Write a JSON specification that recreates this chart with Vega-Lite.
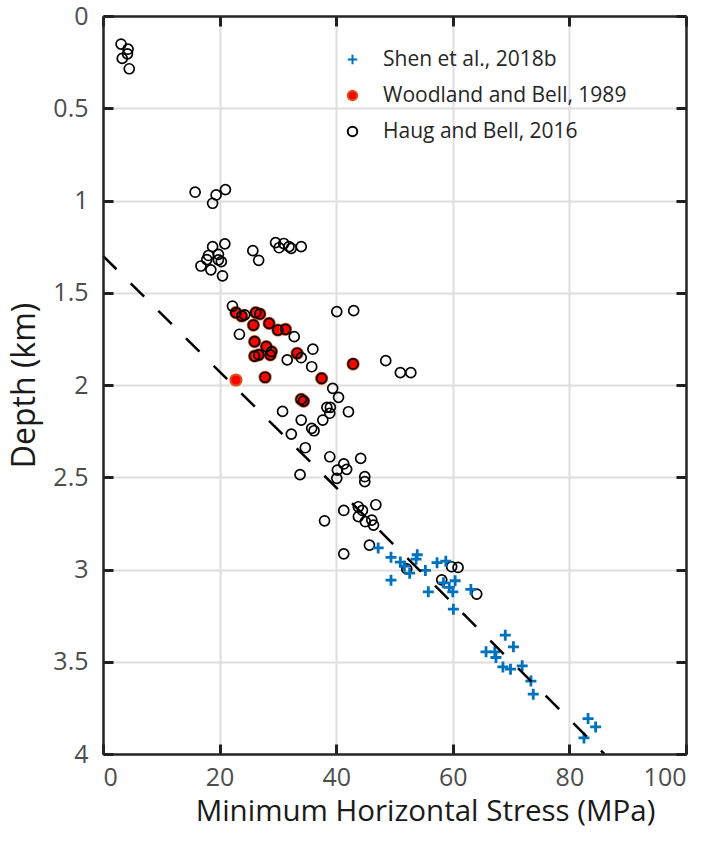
{
  "$schema": "https://vega.github.io/schema/vega-lite/v6.json",
  "width": 583,
  "height": 738,
  "autosize": "none",
  "padding": {"left": 103, "top": 16, "right": 21, "bottom": 88},
  "background": "white",
  "config": {"view": {"stroke": null}, "font": "Open Sans"},
  "datasets": {
    "pts": [
      {"source": "Woodland and Bell, 1989", "stress": 22.8, "depth": 1.608},
      {"source": "Woodland and Bell, 1989", "stress": 23.8, "depth": 1.626},
      {"source": "Woodland and Bell, 1989", "stress": 26.2, "depth": 1.608},
      {"source": "Woodland and Bell, 1989", "stress": 26.9, "depth": 1.615},
      {"source": "Woodland and Bell, 1989", "stress": 25.8, "depth": 1.675},
      {"source": "Woodland and Bell, 1989", "stress": 28.5, "depth": 1.666},
      {"source": "Woodland and Bell, 1989", "stress": 30.0, "depth": 1.702},
      {"source": "Woodland and Bell, 1989", "stress": 31.3, "depth": 1.698},
      {"source": "Woodland and Bell, 1989", "stress": 26.0, "depth": 1.765},
      {"source": "Woodland and Bell, 1989", "stress": 28.0, "depth": 1.792},
      {"source": "Woodland and Bell, 1989", "stress": 28.9, "depth": 1.819},
      {"source": "Woodland and Bell, 1989", "stress": 26.0, "depth": 1.843},
      {"source": "Woodland and Bell, 1989", "stress": 26.7, "depth": 1.837},
      {"source": "Woodland and Bell, 1989", "stress": 28.7, "depth": 1.837},
      {"source": "Woodland and Bell, 1989", "stress": 33.3, "depth": 1.828},
      {"source": "Woodland and Bell, 1989", "stress": 27.8, "depth": 1.958},
      {"source": "Woodland and Bell, 1989", "stress": 37.5, "depth": 1.964},
      {"source": "Woodland and Bell, 1989", "stress": 42.9, "depth": 1.886},
      {"source": "Woodland and Bell, 1989", "stress": 22.8, "depth": 1.973},
      {"source": "Woodland and Bell, 1989", "stress": 34.0, "depth": 2.078},
      {"source": "Woodland and Bell, 1989", "stress": 34.4, "depth": 2.087},

      {"source": "Haug and Bell, 2016", "stress": 22.8, "depth": 1.608},
      {"source": "Haug and Bell, 2016", "stress": 23.8, "depth": 1.626},
      {"source": "Haug and Bell, 2016", "stress": 26.2, "depth": 1.608},
      {"source": "Haug and Bell, 2016", "stress": 26.9, "depth": 1.615},
      {"source": "Haug and Bell, 2016", "stress": 25.8, "depth": 1.675},
      {"source": "Haug and Bell, 2016", "stress": 28.5, "depth": 1.666},
      {"source": "Haug and Bell, 2016", "stress": 30.0, "depth": 1.702},
      {"source": "Haug and Bell, 2016", "stress": 31.3, "depth": 1.698},
      {"source": "Haug and Bell, 2016", "stress": 26.0, "depth": 1.765},
      {"source": "Haug and Bell, 2016", "stress": 28.0, "depth": 1.792},
      {"source": "Haug and Bell, 2016", "stress": 28.9, "depth": 1.819},
      {"source": "Haug and Bell, 2016", "stress": 26.0, "depth": 1.843},
      {"source": "Haug and Bell, 2016", "stress": 26.7, "depth": 1.837},
      {"source": "Haug and Bell, 2016", "stress": 28.7, "depth": 1.837},
      {"source": "Haug and Bell, 2016", "stress": 33.3, "depth": 1.828},
      {"source": "Haug and Bell, 2016", "stress": 27.8, "depth": 1.958},
      {"source": "Haug and Bell, 2016", "stress": 37.5, "depth": 1.964},
      {"source": "Haug and Bell, 2016", "stress": 42.9, "depth": 1.886},
      {"source": "Haug and Bell, 2016", "stress": 34.0, "depth": 2.078},
      {"source": "Haug and Bell, 2016", "stress": 34.4, "depth": 2.087},

      {"source": "Haug and Bell, 2016", "stress": 3.1, "depth": 0.152},
      {"source": "Haug and Bell, 2016", "stress": 4.3, "depth": 0.18},
      {"source": "Haug and Bell, 2016", "stress": 4.2, "depth": 0.205},
      {"source": "Haug and Bell, 2016", "stress": 3.3, "depth": 0.23},
      {"source": "Haug and Bell, 2016", "stress": 4.5, "depth": 0.286},
      {"source": "Haug and Bell, 2016", "stress": 15.8, "depth": 0.955},
      {"source": "Haug and Bell, 2016", "stress": 19.4, "depth": 0.97},
      {"source": "Haug and Bell, 2016", "stress": 21.0, "depth": 0.941},
      {"source": "Haug and Bell, 2016", "stress": 18.8, "depth": 1.015},
      {"source": "Haug and Bell, 2016", "stress": 20.9, "depth": 1.235},
      {"source": "Haug and Bell, 2016", "stress": 18.8, "depth": 1.25},
      {"source": "Haug and Bell, 2016", "stress": 18.1, "depth": 1.298},
      {"source": "Haug and Bell, 2016", "stress": 19.8, "depth": 1.292},
      {"source": "Haug and Bell, 2016", "stress": 17.8, "depth": 1.32},
      {"source": "Haug and Bell, 2016", "stress": 19.8, "depth": 1.322},
      {"source": "Haug and Bell, 2016", "stress": 20.3, "depth": 1.331},
      {"source": "Haug and Bell, 2016", "stress": 16.8, "depth": 1.355},
      {"source": "Haug and Bell, 2016", "stress": 18.5, "depth": 1.376},
      {"source": "Haug and Bell, 2016", "stress": 20.5, "depth": 1.408},
      {"source": "Haug and Bell, 2016", "stress": 25.7, "depth": 1.272},
      {"source": "Haug and Bell, 2016", "stress": 26.7, "depth": 1.324},
      {"source": "Haug and Bell, 2016", "stress": 29.6, "depth": 1.228},
      {"source": "Haug and Bell, 2016", "stress": 30.2, "depth": 1.256},
      {"source": "Haug and Bell, 2016", "stress": 31.0, "depth": 1.233},
      {"source": "Haug and Bell, 2016", "stress": 31.9, "depth": 1.25},
      {"source": "Haug and Bell, 2016", "stress": 32.3, "depth": 1.259},
      {"source": "Haug and Bell, 2016", "stress": 34.0, "depth": 1.25},
      {"source": "Haug and Bell, 2016", "stress": 22.2, "depth": 1.572},
      {"source": "Haug and Bell, 2016", "stress": 24.3, "depth": 1.62},
      {"source": "Haug and Bell, 2016", "stress": 23.4, "depth": 1.725},
      {"source": "Haug and Bell, 2016", "stress": 32.8, "depth": 1.738},
      {"source": "Haug and Bell, 2016", "stress": 40.1, "depth": 1.602},
      {"source": "Haug and Bell, 2016", "stress": 43.0, "depth": 1.597},
      {"source": "Haug and Bell, 2016", "stress": 36.0, "depth": 1.806},
      {"source": "Haug and Bell, 2016", "stress": 31.6, "depth": 1.864},
      {"source": "Haug and Bell, 2016", "stress": 34.0, "depth": 1.852},
      {"source": "Haug and Bell, 2016", "stress": 35.8, "depth": 1.901},
      {"source": "Haug and Bell, 2016", "stress": 39.4, "depth": 2.018},
      {"source": "Haug and Bell, 2016", "stress": 40.4, "depth": 2.067},
      {"source": "Haug and Bell, 2016", "stress": 48.5, "depth": 1.868},
      {"source": "Haug and Bell, 2016", "stress": 51.0, "depth": 1.933},
      {"source": "Haug and Bell, 2016", "stress": 52.8, "depth": 1.933},
      {"source": "Haug and Bell, 2016", "stress": 42.1, "depth": 2.145},
      {"source": "Haug and Bell, 2016", "stress": 38.4, "depth": 2.121},
      {"source": "Haug and Bell, 2016", "stress": 39.0, "depth": 2.121},
      {"source": "Haug and Bell, 2016", "stress": 38.9, "depth": 2.153},
      {"source": "Haug and Bell, 2016", "stress": 37.7, "depth": 2.19},
      {"source": "Haug and Bell, 2016", "stress": 35.8, "depth": 2.235},
      {"source": "Haug and Bell, 2016", "stress": 36.2, "depth": 2.248},
      {"source": "Haug and Bell, 2016", "stress": 34.0, "depth": 2.19},
      {"source": "Haug and Bell, 2016", "stress": 34.7, "depth": 2.34},
      {"source": "Haug and Bell, 2016", "stress": 30.8, "depth": 2.143},
      {"source": "Haug and Bell, 2016", "stress": 32.3, "depth": 2.266},
      {"source": "Haug and Bell, 2016", "stress": 33.8, "depth": 2.486},
      {"source": "Haug and Bell, 2016", "stress": 38.9, "depth": 2.389},
      {"source": "Haug and Bell, 2016", "stress": 41.3, "depth": 2.428},
      {"source": "Haug and Bell, 2016", "stress": 41.8, "depth": 2.457},
      {"source": "Haug and Bell, 2016", "stress": 40.2, "depth": 2.461},
      {"source": "Haug and Bell, 2016", "stress": 40.1, "depth": 2.506},
      {"source": "Haug and Bell, 2016", "stress": 44.2, "depth": 2.398},
      {"source": "Haug and Bell, 2016", "stress": 44.9, "depth": 2.497},
      {"source": "Haug and Bell, 2016", "stress": 44.9, "depth": 2.524},
      {"source": "Haug and Bell, 2016", "stress": 46.8, "depth": 2.649},
      {"source": "Haug and Bell, 2016", "stress": 41.3, "depth": 2.68},
      {"source": "Haug and Bell, 2016", "stress": 38.0, "depth": 2.736},
      {"source": "Haug and Bell, 2016", "stress": 43.8, "depth": 2.66},
      {"source": "Haug and Bell, 2016", "stress": 44.5, "depth": 2.68},
      {"source": "Haug and Bell, 2016", "stress": 43.8, "depth": 2.713},
      {"source": "Haug and Bell, 2016", "stress": 45.0, "depth": 2.741},
      {"source": "Haug and Bell, 2016", "stress": 46.1, "depth": 2.732},
      {"source": "Haug and Bell, 2016", "stress": 46.4, "depth": 2.759},
      {"source": "Haug and Bell, 2016", "stress": 45.7, "depth": 2.868},
      {"source": "Haug and Bell, 2016", "stress": 41.3, "depth": 2.915},
      {"source": "Haug and Bell, 2016", "stress": 52.1, "depth": 2.997},
      {"source": "Haug and Bell, 2016", "stress": 59.8, "depth": 2.985},
      {"source": "Haug and Bell, 2016", "stress": 60.9, "depth": 2.989},
      {"source": "Haug and Bell, 2016", "stress": 58.1, "depth": 3.056},
      {"source": "Haug and Bell, 2016", "stress": 64.1, "depth": 3.133},

      {"source": "Shen et al., 2018b", "stress": 47.2, "depth": 2.883},
      {"source": "Shen et al., 2018b", "stress": 49.4, "depth": 2.934},
      {"source": "Shen et al., 2018b", "stress": 51.0, "depth": 2.96},
      {"source": "Shen et al., 2018b", "stress": 51.7, "depth": 2.982},
      {"source": "Shen et al., 2018b", "stress": 53.9, "depth": 2.92},
      {"source": "Shen et al., 2018b", "stress": 53.7, "depth": 2.944},
      {"source": "Shen et al., 2018b", "stress": 55.3, "depth": 3.005},
      {"source": "Shen et al., 2018b", "stress": 57.3, "depth": 2.963},
      {"source": "Shen et al., 2018b", "stress": 58.8, "depth": 2.955},
      {"source": "Shen et al., 2018b", "stress": 49.4, "depth": 3.058},
      {"source": "Shen et al., 2018b", "stress": 52.6, "depth": 3.02},
      {"source": "Shen et al., 2018b", "stress": 58.4, "depth": 3.072},
      {"source": "Shen et al., 2018b", "stress": 55.8, "depth": 3.121},
      {"source": "Shen et al., 2018b", "stress": 59.4, "depth": 3.097},
      {"source": "Shen et al., 2018b", "stress": 60.4, "depth": 3.061},
      {"source": "Shen et al., 2018b", "stress": 60.0, "depth": 3.121},
      {"source": "Shen et al., 2018b", "stress": 60.1, "depth": 3.215},
      {"source": "Shen et al., 2018b", "stress": 63.1, "depth": 3.108},
      {"source": "Shen et al., 2018b", "stress": 69.0, "depth": 3.356},
      {"source": "Shen et al., 2018b", "stress": 70.4, "depth": 3.419},
      {"source": "Shen et al., 2018b", "stress": 65.7, "depth": 3.446},
      {"source": "Shen et al., 2018b", "stress": 67.2, "depth": 3.446},
      {"source": "Shen et al., 2018b", "stress": 67.4, "depth": 3.477},
      {"source": "Shen et al., 2018b", "stress": 68.6, "depth": 3.528},
      {"source": "Shen et al., 2018b", "stress": 69.9, "depth": 3.54},
      {"source": "Shen et al., 2018b", "stress": 71.9, "depth": 3.522},
      {"source": "Shen et al., 2018b", "stress": 73.4, "depth": 3.605},
      {"source": "Shen et al., 2018b", "stress": 73.8, "depth": 3.676},
      {"source": "Shen et al., 2018b", "stress": 83.2, "depth": 3.808},
      {"source": "Shen et al., 2018b", "stress": 84.5, "depth": 3.853},
      {"source": "Shen et al., 2018b", "stress": 82.5, "depth": 3.913}
    ],
    "fit": [
      {"stress": 0, "depth": 1.3},
      {"stress": 86, "depth": 4.0}
    ]
  },
  "layer": [
    {
      "data": {"name": "pts"},
      "transform": [{"filter": "datum.source === 'Woodland and Bell, 1989'"}],
      "mark": {"type": "point", "opacity": 1, "size": 125, "strokeWidth": 2},
      "encoding": {
        "x": {
          "field": "stress", "type": "quantitative",
          "scale": {"domain": [0, 100], "nice": false, "zero": false},
          "axis": {
            "orient": "bottom", "values": [0, 20, 40, 60, 80, 100],
            "grid": true, "gridColor": "#dedede", "gridWidth": 2,
            "domain": false, "ticks": false,
            "labelFontSize": 25, "labelColor": "#4d4d4d", "labelPadding": 11,
            "title": "Minimum Horizontal Stress (MPa)", "titleFontSize": 29.5,
            "titleFontWeight": "normal", "titleColor": "#1a1a1a", "titlePadding": 7,
            "titleX": 322, "titleAlign": "center"
          }
        },
        "y": {
          "field": "depth", "type": "quantitative",
          "scale": {"domain": [0, 4], "reverse": true, "nice": false, "zero": false},
          "axis": {
            "orient": "left", "values": [0, 0.5, 1, 1.5, 2, 2.5, 3, 3.5, 4],
            "labelExpr": "'' + datum.value",
            "grid": true, "gridColor": "#dedede", "gridWidth": 2,
            "domain": false, "ticks": false,
            "labelFontSize": 25, "labelColor": "#4d4d4d", "labelPadding": 15,
            "title": "Depth (km)", "titleFontSize": 32,
            "titleFontWeight": "normal", "titleColor": "#1a1a1a", "titlePadding": 11
          }
        },
        "shape": {
          "field": "source", "type": "nominal",
          "scale": {
            "domain": ["Shen et al., 2018b", "Woodland and Bell, 1989", "Haug and Bell, 2016"],
            "range": ["M-1,0H1M0,-1V1", "circle", "circle"]
          },
          "legend": {
            "title": null, "orient": "none", "legendX": 239, "legendY": 33,
            "labelFontSize": 21, "labelColor": "#262626", "labelOffset": 20, "labelLimit": 0,
            "rowPadding": 14, "symbolSize": 90, "symbolStrokeWidth": 2, "padding": 0
          }
        },
        "fill": {
          "field": "source", "type": "nominal",
          "scale": {
            "domain": ["Shen et al., 2018b", "Woodland and Bell, 1989", "Haug and Bell, 2016"],
            "range": ["#0072BD", "#FF0000", "transparent"]
          }
        },
        "stroke": {
          "field": "source", "type": "nominal",
          "scale": {
            "domain": ["Shen et al., 2018b", "Woodland and Bell, 1989", "Haug and Bell, 2016"],
            "range": ["#0072BD", "#D95319", "#000000"]
          }
        }
      }
    },
    {
      "data": {"name": "pts"},
      "transform": [{"filter": "datum.source === 'Haug and Bell, 2016'"}],
      "mark": {"type": "point", "opacity": 1, "size": 100, "strokeWidth": 1.7},
      "encoding": {
        "x": {"field": "stress", "type": "quantitative", "axis": null},
        "y": {"field": "depth", "type": "quantitative", "axis": null},
        "shape": {"field": "source", "type": "nominal"},
        "fill": {"field": "source", "type": "nominal"},
        "stroke": {"field": "source", "type": "nominal"}
      }
    },
    {
      "data": {"name": "pts"},
      "transform": [{"filter": "datum.source === 'Shen et al., 2018b'"}],
      "mark": {"type": "point", "opacity": 1, "size": 121, "strokeWidth": 2.8},
      "encoding": {
        "x": {
          "field": "stress", "type": "quantitative",
          "axis": {
            "orient": "bottom", "values": [0, 20, 40, 60, 80, 100], "labels": false,
            "grid": false, "domain": true, "domainColor": "#262626", "domainWidth": 2.5,
            "ticks": true, "tickSize": -10, "tickWidth": 3, "tickColor": "#202020",
            "title": null, "zindex": 2
          }
        },
        "y": {
          "field": "depth", "type": "quantitative",
          "axis": {
            "orient": "left", "values": [0, 0.5, 1, 1.5, 2, 2.5, 3, 3.5, 4], "labels": false,
            "grid": false, "domain": true, "domainColor": "#262626", "domainWidth": 2.5,
            "ticks": true, "tickSize": -10, "tickWidth": 3, "tickColor": "#202020",
            "title": null, "zindex": 2
          }
        },
        "shape": {"field": "source", "type": "nominal"},
        "fill": {"field": "source", "type": "nominal"},
        "stroke": {"field": "source", "type": "nominal"}
      }
    },
    {
      "data": {"name": "fit"},
      "mark": {"type": "line", "color": "#000000", "strokeWidth": 2.5, "strokeDash": [19, 20]},
      "encoding": {
        "x": {
          "field": "stress", "type": "quantitative",
          "axis": {
            "orient": "top", "values": [0, 20, 40, 60, 80, 100], "labels": false,
            "grid": false, "domain": true, "domainColor": "#262626", "domainWidth": 2.5,
            "ticks": true, "tickSize": -10, "tickWidth": 3, "tickColor": "#202020",
            "title": null, "zindex": 2
          }
        },
        "y": {
          "field": "depth", "type": "quantitative",
          "axis": {
            "orient": "right", "values": [0, 0.5, 1, 1.5, 2, 2.5, 3, 3.5, 4], "labels": false,
            "grid": false, "domain": true, "domainColor": "#262626", "domainWidth": 2.5,
            "ticks": true, "tickSize": -10, "tickWidth": 3, "tickColor": "#202020",
            "title": null, "zindex": 2
          }
        }
      }
    }
  ],
  "resolve": {"axis": {"x": "independent", "y": "independent"}}
}
